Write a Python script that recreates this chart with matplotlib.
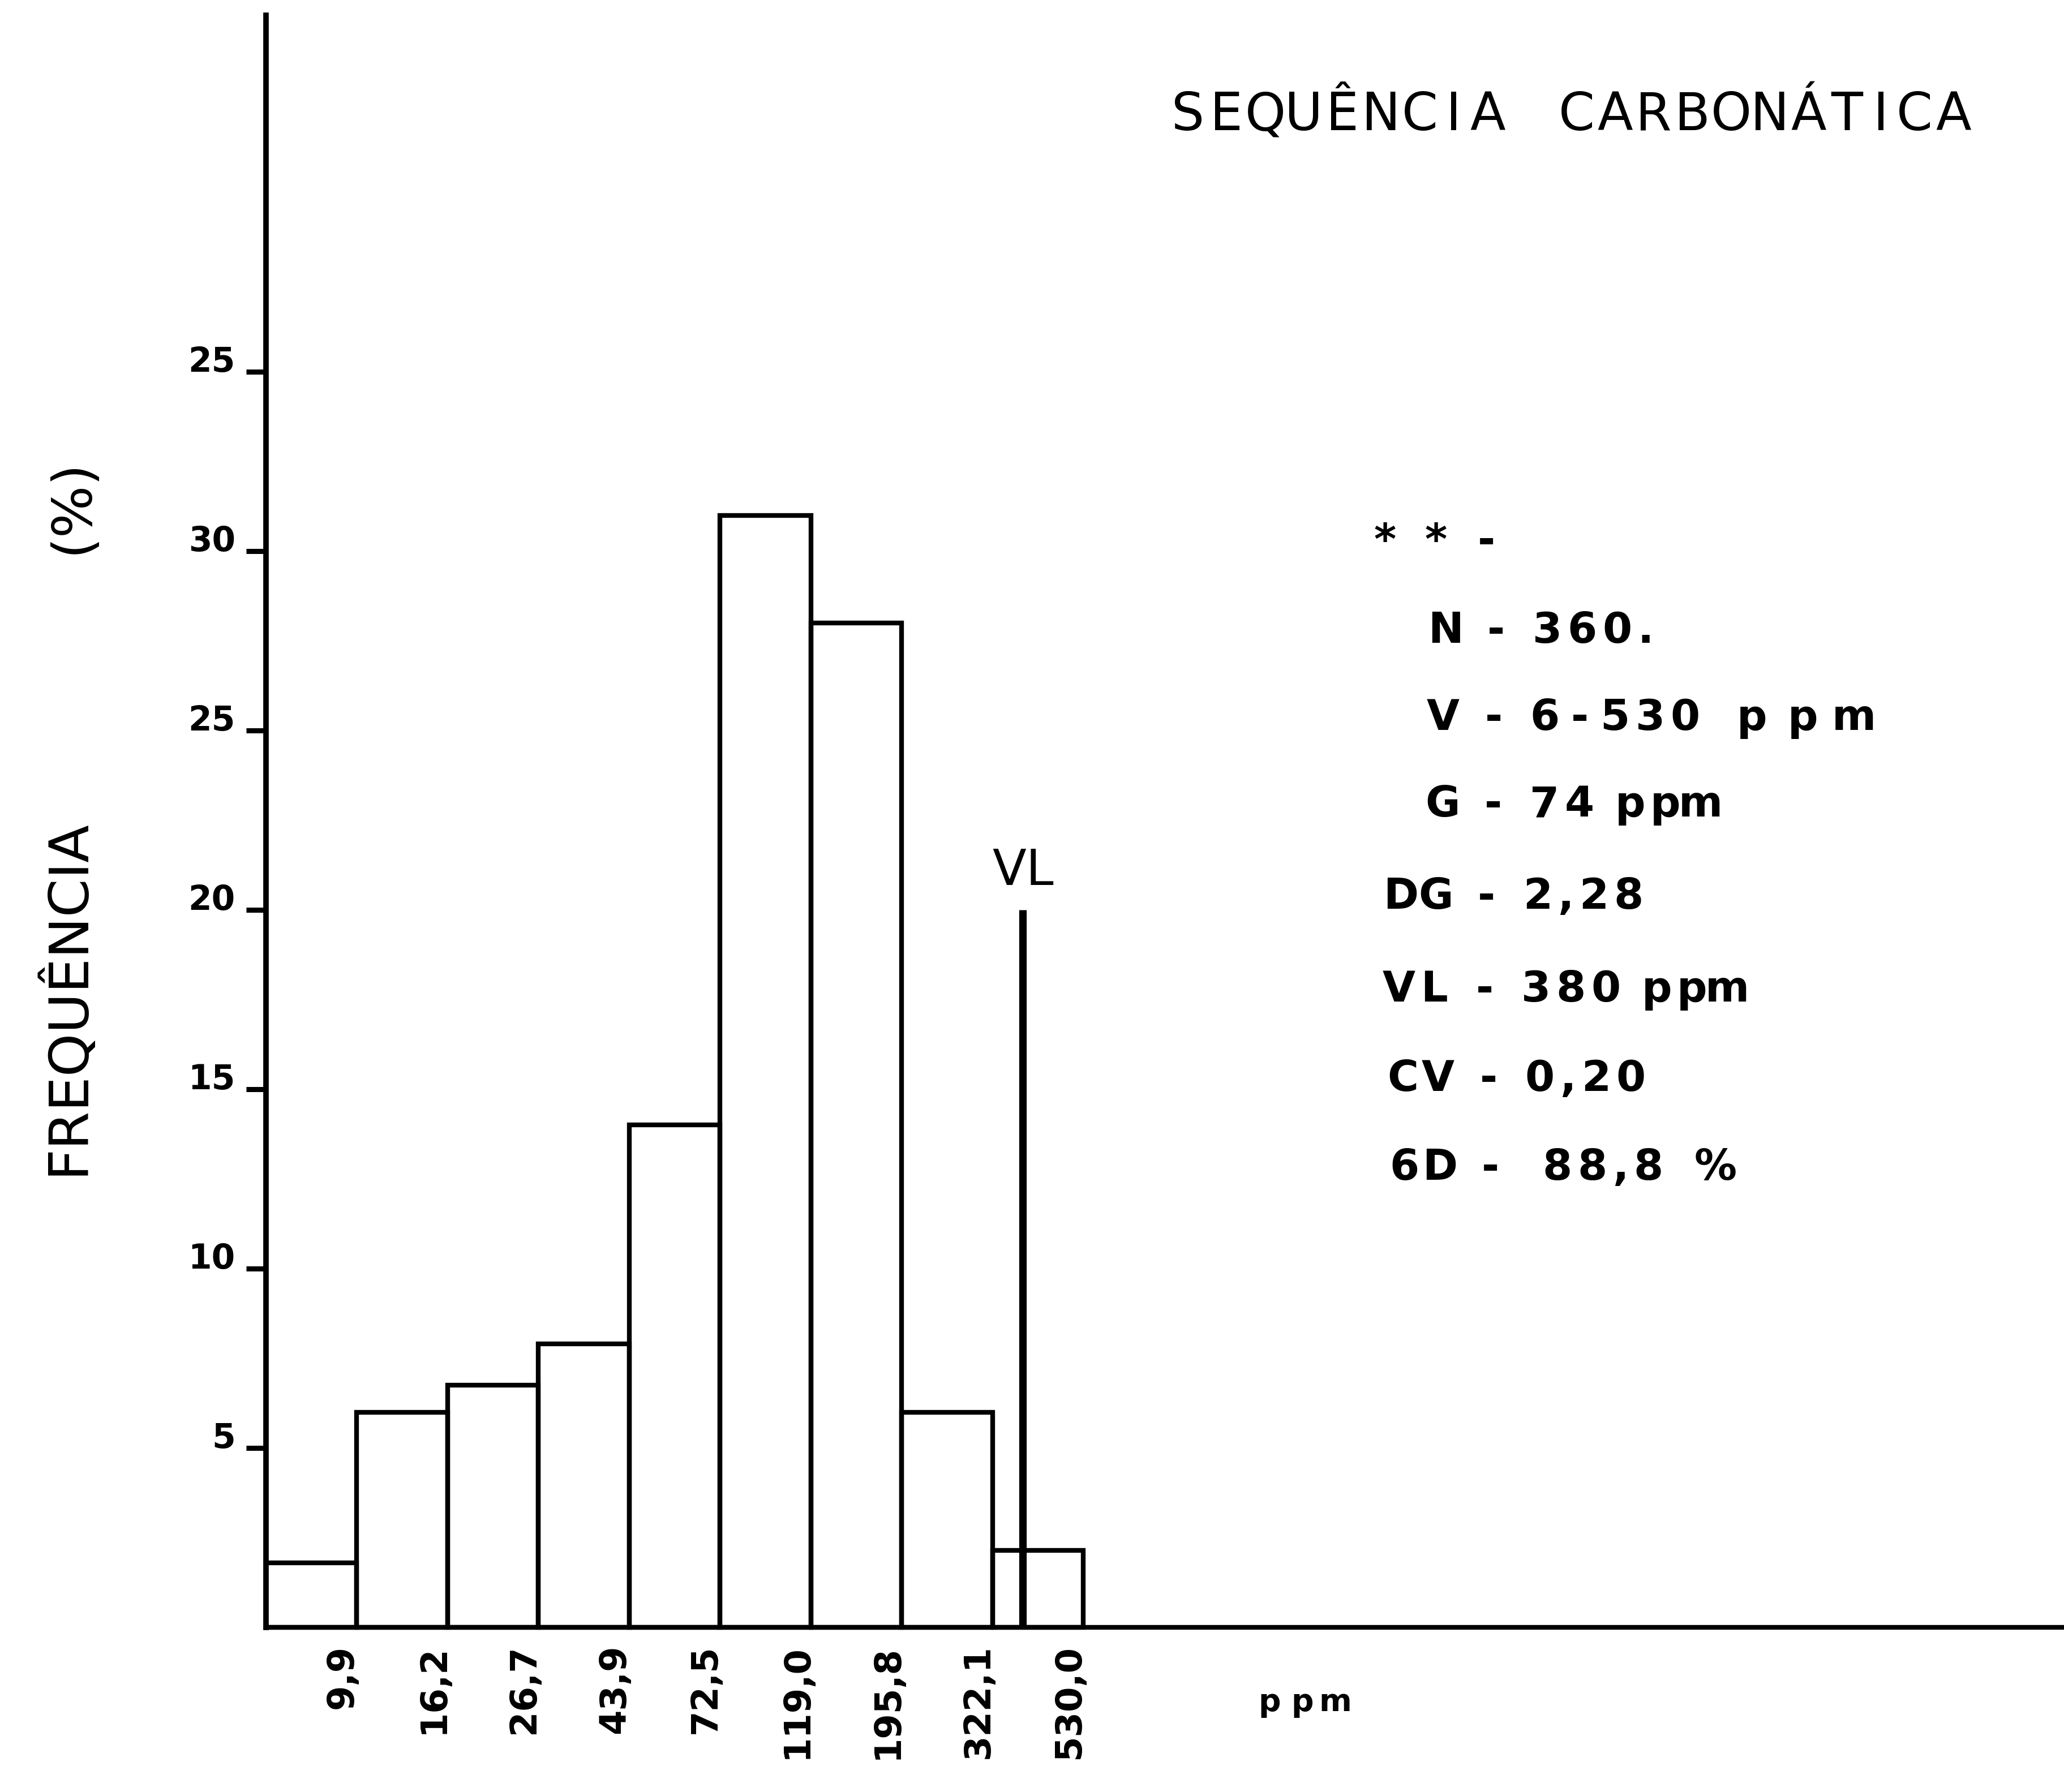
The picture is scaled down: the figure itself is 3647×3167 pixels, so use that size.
import numpy as np
import matplotlib
matplotlib.use("Agg")
import matplotlib.pyplot as plt

W, H = 3648, 3167

# upper class limits (ppm) and frequency (%) of each class
classes = ["9,9", "16,2", "26,7", "43,9", "72,5", "119,0", "195,8", "322,1", "530,0"]
freq = [1.8, 6.0, 6.75, 7.9, 14.0, 31.0, 28.0, 6.0, 2.15]

vl_ppm = 380
vl_height = 20

yticks = [5, 10, 15, 20, 25, 30, 35]
ytick_labels = ["5", "10", "15", "20", "25", "30", "25"]  # the original top label reads 25

title = "SEQUÊNCIA CARBONÁTICA"
stats = ["* * -", "N - 360.", "V - 6-530  p p m", "G - 74 ppm",
         "DG - 2,28", "VL - 380 ppm", "CV - 0,20", "6D -  88,8  %"]
# first glyph centre / baseline of each stats line, in pixels from top-left
stats_x = [2447, 2554, 2550, 2549, 2475, 2472, 2479, 2482]
stats_y = [958, 1136, 1290, 1443, 1606, 1770, 1928, 2085]

fig = plt.figure(figsize=(W / 100, H / 100), dpi=100)
fig.patch.set_facecolor("white")

x0, base, top = 470, 2876, 27
bin_px, unit_px = 160.5, 63.4
ax = fig.add_axes([x0 / W, 1 - base / H, 1 - x0 / W, (base - top) / H])
ax.set_xlim(0, (W - x0) / bin_px)
ax.set_ylim(0, (base - top) / unit_px)

# narrow glyphs take a smaller slot
NARROW = {"I": 0.75, ",": 0.6, ".": 0.6, "1": 0.7}


def letter(x, y, s, size, pitch, space=0.45, va="baseline", **kw):
    # one glyph per slot, like stencil lettering (x = first glyph centre, px)
    prev = None
    for ch in s:
        if ch == " ":
            x += pitch * space
            continue
        w = NARROW.get(ch, 1.0)
        if prev is not None:
            x += pitch * (prev + w) / 2
        fig.text(x / W, 1 - y / H, ch, ha="center", va=va, fontsize=size, **kw)
        prev = w


idx = np.arange(len(freq))
ax.bar(idx, freq, width=1, align="edge", fill=False, edgecolor="black",
       linewidth=6, clip_on=False, zorder=3)

# VL position: log interpolation between the class limits
upper = np.array([float(c.replace(",", ".")) for c in classes])
vl_x = np.interp(np.log(vl_ppm), np.log(upper), idx + 1)
ax.plot([vl_x, vl_x], [0, vl_height], color="black", lw=9.5,
        solid_capstyle="butt", zorder=4)
ax.text(vl_x, vl_height + 0.7, "VL", ha="center", va="baseline", fontsize=63)

ax.spines[["top", "right"]].set_visible(False)
ax.spines["left"].set_linewidth(7)
ax.spines["bottom"].set_linewidth(6)

ax.set_yticks(yticks)
ax.set_yticklabels(ytick_labels, fontsize=43, fontweight="bold", va="baseline")
ax.tick_params(axis="y", length=25, width=6.5, pad=14, direction="out")

ax.set_xticks(idx + 1 - 0.16)
ax.set_xticklabels(classes, rotation=90, fontsize=46, fontweight="bold",
                   va="top", ha="center")
ax.tick_params(axis="x", length=0, pad=22)

letter(2099, 230, title, 66, 68.3, space=1.3)
for i, (s, sx, sy) in enumerate(zip(stats, stats_x, stats_y)):
    letter(sx, sy, s, 54, 62, va="center" if i == 0 else "baseline",
           fontweight="bold")
letter(2243, 3024, "ppm", 40, 58, fontweight="bold")

fig.text(117 / W, 1 - 1762 / H, "FREQUÊNCIA", rotation=90,
         ha="center", va="center", fontsize=70)
fig.text(128 / W, 1 - 895 / H, "(%)", rotation=90,
         ha="center", va="center", fontsize=70)

fig.savefig("out.png", dpi=100)
